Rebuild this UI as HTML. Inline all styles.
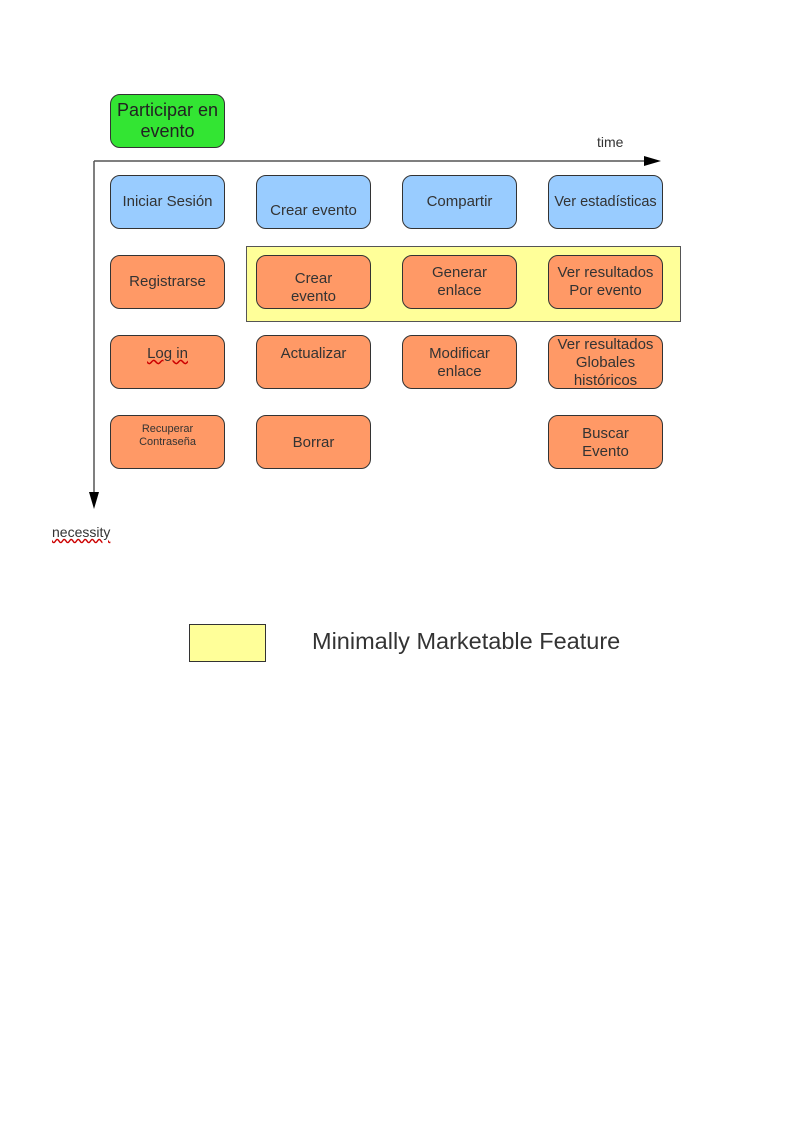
<!DOCTYPE html>
<html><head><meta charset="utf-8"><style>
body{margin:0;width:794px;height:1123px;background:#fff;position:relative;font-family:"Liberation Sans",sans-serif;overflow:hidden}
.b{position:absolute;width:115px;height:54px;border:1px solid #333;border-radius:10px;box-sizing:border-box;text-align:center;color:#333;font-size:15px;line-height:18px}
.b span{position:absolute;left:0;right:0}
.bl{background:#99ccff}.o{background:#ff9966}.g{background:#33e533;font-size:18px;line-height:21px;color:#222}
.t{position:absolute;color:#333}
</style></head><body>
<div style="position:absolute;left:246px;top:246px;width:435px;height:76px;background:#ffff99;border:1px solid #555;box-sizing:border-box"></div>
<svg style="position:absolute;left:0;top:0" width="794" height="1123">
<line x1="94" y1="161" x2="648" y2="161" stroke="#555" stroke-width="1.5"/>
<polygon points="644,156 661,161 644,166" fill="#000"/>
<line x1="94" y1="161" x2="94" y2="494" stroke="#555" stroke-width="1.5"/>
<polygon points="89,492 94,509 99,492" fill="#000"/>
</svg>
<div class="b g" style="left:110px;top:94px"><span style="top:5px">Participar en<br>evento</span></div>
<div class="b bl" style="left:110px;top:175px"><span style="top:17px">Iniciar Sesión</span></div>
<div class="b bl" style="left:256px;top:175px"><span style="top:26px">Crear evento</span></div>
<div class="b bl" style="left:402px;top:175px"><span style="top:17px">Compartir</span></div>
<div class="b bl" style="left:548px;top:175px;font-size:14.5px"><span style="top:17px">Ver estadísticas</span></div>
<div class="b o" style="left:110px;top:255px"><span style="top:17px">Registrarse</span></div>
<div class="b o" style="left:256px;top:255px"><span style="top:14px">Crear<br>evento</span></div>
<div class="b o" style="left:402px;top:255px"><span style="top:8px">Generar<br>enlace</span></div>
<div class="b o" style="left:548px;top:255px"><span style="top:8px">Ver resultados<br>Por evento</span></div>
<div class="b o" style="left:110px;top:335px"><span style="top:9px;text-decoration:underline wavy #c00">Log in</span></div>
<div class="b o" style="left:256px;top:335px"><span style="top:9px">Actualizar</span></div>
<div class="b o" style="left:402px;top:335px"><span style="top:9px">Modificar<br>enlace</span></div>
<div class="b o" style="left:548px;top:335px"><span style="top:0px">Ver resultados<br>Globales<br>históricos</span></div>
<div class="b o" style="left:110px;top:415px;font-size:11px;line-height:13px"><span style="top:7px">Recuperar<br>Contraseña</span></div>
<div class="b o" style="left:256px;top:415px"><span style="top:18px">Borrar</span></div>
<div class="b o" style="left:548px;top:415px"><span style="top:9px">Buscar<br>Evento</span></div>
<div class="t" style="left:597px;top:134px;font-size:14px">time</div>
<div class="t" style="left:52px;top:524px;font-size:14px;text-decoration:underline wavy #c00">necessity</div>
<div style="position:absolute;left:189px;top:624px;width:77px;height:38px;background:#ffff99;border:1px solid #333;box-sizing:border-box"></div>
<div class="t" style="left:312px;top:628px;font-size:23.5px">Minimally Marketable Feature</div>
</body></html>
